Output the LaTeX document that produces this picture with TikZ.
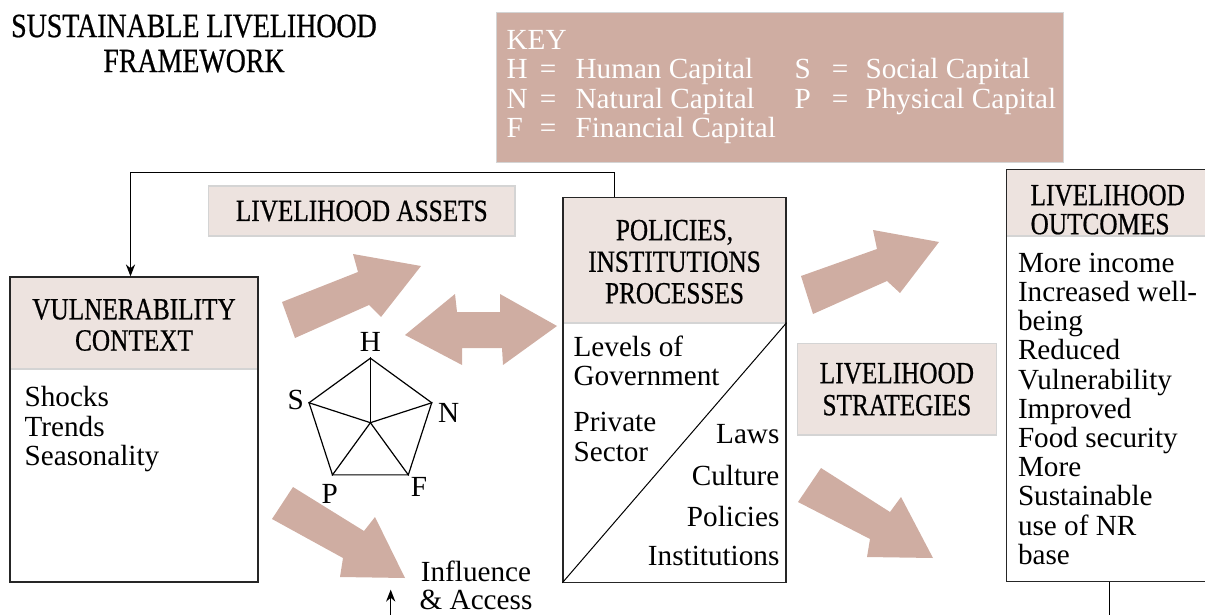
\documentclass[tikz,border=0pt]{standalone}
\usepackage{fontspec}
\setmainfont{Liberation Serif}
\newfontfamily\condfont{Liberation Serif}[FakeStretch=0.82,FakeBold=0.6]
\usepackage{tikz}
\usetikzlibrary{arrows.meta,calc,positioning,shapes.geometric}

\definecolor{keypink}{HTML}{CFADA2}
\definecolor{palepink}{HTML}{EDE3DF}
\definecolor{rimgray}{HTML}{D4D4D4}

\newcommand{\hdfont}{\condfont\fontsize{15.4}{15.6}\selectfont}
\newcommand{\txfont}{\fontsize{14.6}{14.6}\selectfont}

\tikzset{
  lbl/.style={inner sep=0, font=\txfont},
  tag/.style={draw=rimgray, fill=palepink, line width=0.8pt, inner sep=0, align=center, font=\hdfont},
  fat/.style={fill=keypink},
  panel/.style={draw=black!85, line width=0.6pt, inner sep=0, path picture={
    \fill[palepink] (path picture bounding box.north west) rectangle ([yshift=-#1]path picture bounding box.north east);
    \draw[rimgray, line width=1pt] ([yshift=-#1]path picture bounding box.north west) -- ([yshift=-#1]path picture bounding box.north east);}},
}

\begin{document}
\begin{tikzpicture}[x=0.5pt,y=-0.5pt,>={Stealth[length=6pt,width=4.6pt]},line width=0.6pt]
\useasboundingbox (0,0) rectangle (1205,615);

% title and key
\node[inner sep=0, anchor=north, align=center, font=\condfont\fontsize{17}{17.5}\selectfont] (title) at (194,14) {SUSTAINABLE LIVELIHOOD\\FRAMEWORK};
\node[draw=rimgray, fill=keypink, minimum width=283.8pt, minimum height=75pt, inner sep=0] (key) at (780,87.3) {};
\node[lbl, text=white, anchor=base west] (keyt) at (506,50) {KEY};
\foreach \l/\t/\x/\e/\s/\y in {H/Human Capital/506/548/575/79, N/Natural Capital/506/548/575/108.5, F/Financial Capital/506/548/575/138, S/Social Capital/794/840/865/79, P/Physical Capital/794/840/865/108.5} {
  \node[lbl, text=white, anchor=base west] (k\l) at (\x,\y) {\l};
  \node[lbl, text=white, anchor=base] (ke\l) at (\e,\y) {=};
  \node[lbl, text=white, anchor=base west] (kt\l) at (\s,\y) {\t};
}

% boxes
\node[tag, minimum width=153.2pt, minimum height=25.2pt] (la) at (361.8,211) {LIVELIHOOD ASSETS};
\node[panel=46pt, minimum width=124pt, minimum height=152.5pt] (vc) at (134,429.5) {};
\node[panel=63pt, minimum width=111.5pt, minimum height=192.4pt] (pip) at (674.5,389.7) {};
\node[tag, minimum width=99.4pt, minimum height=45.9pt, font=\condfont\fontsize{15.4}{16}\selectfont] (ls) at (896.9,389.2) {LIVELIHOOD\\STRATEGIES};
\node[panel=33.4pt, minimum width=109.7pt, minimum height=205.9pt] (oc) at (1116.4,375.2) {};

% box texts
\node[lbl, font=\hdfont, align=center, anchor=north] (vct) at (134,298.4) {VULNERABILITY\\CONTEXT};
\node[lbl, font=\fontsize{14.6}{14.75}\selectfont, align=left, anchor=north west] (vcb) at (24,386) {Shocks\\Trends\\Seasonality};
\node[lbl, font=\condfont\fontsize{15.4}{15.8}\selectfont, align=center, anchor=north] (pipt) at (674.5,219.2) {POLICIES,\\INSTITUTIONS\\PROCESSES};
\draw[line width=0.5pt] ($(pip.north east)+(0,126)$) -- (pip.south west);
\node[lbl, align=left, anchor=north west] (lev) at (573,335) {Levels of\\Government};
\node[lbl, font=\fontsize{14.6}{15}\selectfont, align=left, anchor=north west] (priv) at (573,411.7) {Private\\Sector};
\foreach \t/\y [count=\i] in {Laws/443.3, Culture/485, Policies/526, Institutions/565}
  \node[lbl, anchor=base east] (r\i) at (780,\y) {\t};
\node[lbl, font=\condfont\fontsize{15.4}{14.5}\selectfont, align=left, anchor=north west] (oct) at (1030,184.2) {LIVELIHOOD\\OUTCOMES};
\node[lbl, align=left, anchor=north west] (ocb) at (1017.4,252.4) {More income\\Increased well-\\being\\Reduced\\Vulnerability\\Improved\\Food security\\More\\Sustainable\\use of NR\\base};
\node[lbl, font=\fontsize{14.6}{14.2}\selectfont, align=center, anchor=north] (ia) at (476,560) {Influence\\\& Access};

% asset pentagon
\node[draw, regular polygon, regular polygon sides=5, minimum size=64.5pt, inner sep=0] (pent) at (370.4,422.7) {};
\foreach \i in {1,...,5}
  \draw (pent.center) -- (pent.corner \i);
\node[lbl, above=2.5pt of pent.corner 1] (lh) {H};
\node[lbl, left=2pt of pent.corner 2, yshift=1.2pt] (lsc) {S};
\node[lbl, below=4pt of pent.corner 3, xshift=-1.2pt] (lp) {P};
\node[lbl, anchor=north west, xshift=0.8pt, yshift=-0.5pt] (lf) at (pent.corner 4) {F};
\node[lbl, anchor=north west, xshift=2.5pt] (ln) at (pent.corner 5) {N};

% big arrows
\fill[fat] (282,302) -- (358,272) -- (353,254) -- (421,266) -- (381,317) -- (369,305) -- (295,338) -- cycle;
\fill[fat] (405,335) -- (455,294) -- (457,312) -- (500,312) -- (500,294) -- (557,326) -- (503,365) -- (502,348) -- (462,348) -- (462,365) -- cycle;
\fill[fat] (293,487) -- (364,531) -- (375,517) -- (405,578) -- (340,577) -- (343,558) -- (272,519) -- cycle;
\fill[fat] (801,276) -- (877,249) -- (873,230) -- (939,242) -- (900,293) -- (887,281) -- (813,314) -- cycle;
\fill[fat] (821,468) -- (890,512) -- (901,497) -- (933,558) -- (867,557) -- (870,539) -- (798,502) -- cycle;

% connectors
\coordinate (fb) at (130.5,172.3);
\draw[->] ([xshift=25.85pt]pip.north west) |- (fb) -- ([xshift=-1.75pt]vc.north);
\coordinate (iain) at (390.7,625);
\draw[->] (iain) -- ([yshift=-2.2pt]iain |- ia.center);
\coordinate (ocout) at (1109.3,625);
\draw (ocout |- oc.south) -- (ocout);
\end{tikzpicture}
\end{document}
